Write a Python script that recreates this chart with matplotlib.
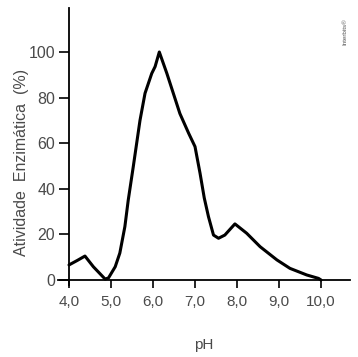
import matplotlib.pyplot as plt

# curve
ph = [4.0, 4.2, 4.38, 4.58, 4.86, 4.94, 5.1, 5.21, 5.33, 5.41, 5.53, 5.69, 5.81, 5.97,
      6.05, 6.15, 6.33, 6.64, 6.85, 7.0, 7.12, 7.22, 7.32, 7.44, 7.56, 7.71, 7.95,
      8.23, 8.55, 8.95, 9.26, 9.66, 9.94, 10.0]
activity = [6.6, 8.6, 10.5, 5.8, 0.4, 0.9, 5.8, 11.8, 23.4, 35.0, 49.7, 70.0, 81.9, 90.6,
            93.6, 100.0, 90.6, 73.0, 64.3, 58.5, 46.8, 36.0, 27.8, 19.7, 18.3, 19.7, 24.6,
            20.5, 14.6, 8.8, 5.1, 2.2, 0.7, 0.0]

x_ticks = [4, 5, 6, 7, 8, 9, 10]
x_labels = ["4,0", "5,0", "6,0", "7,0", "8,0", "9,0", "10,0"]
y_ticks = [0, 20, 40, 60, 80, 100]

grey = "#4a4a4a"
fig = plt.figure(figsize=(3.58, 3.57), dpi=100)
ax = fig.add_axes([58 / 358, 72 / 357, 292 / 358, 277 / 357])

ax.plot(ph, activity, color="black", lw=2.2, solid_joinstyle="round", solid_capstyle="round")

ax.set_xlim(3.738, 10.69)
ax.set_ylim(-2.2, 119.3)
ax.spines["top"].set_visible(False)
ax.spines["right"].set_visible(False)
ax.spines["left"].set_position(("data", 4))
ax.spines["bottom"].set_position(("data", 0))
ax.spines["left"].set_linewidth(1.3)
ax.spines["bottom"].set_linewidth(1.3)

ax.set_xticks(x_ticks)
ax.set_xticklabels(x_labels, fontfamily="Liberation Sans", fontsize=11, color=grey)
ax.set_yticks(y_ticks)
ax.set_yticklabels([str(v) for v in y_ticks], fontfamily="Liberation Sans", fontsize=11.5, color=grey)
ax.tick_params(axis="x", length=6, width=1.2, pad=5)
ax.tick_params(axis="y", length=7, width=1.2, pad=3)

fig.text(22 / 358, 1 - 162 / 357, "Atividade  Enzimática  (%)", rotation=90,
         ha="center", va="center", fontfamily="Liberation Sans", fontsize=11.5, color=grey)
fig.text(204 / 358, 1 - 345 / 357, "pH", ha="center", va="center",
         fontfamily="Liberation Sans", fontsize=11, color=grey)
fig.text(345 / 358, 1 - 32 / 357, "Interbits®", rotation=90, ha="center", va="center",
         fontfamily="Liberation Sans", fontsize=4.5, color="#555555")

fig.savefig("out.png", dpi=100)
